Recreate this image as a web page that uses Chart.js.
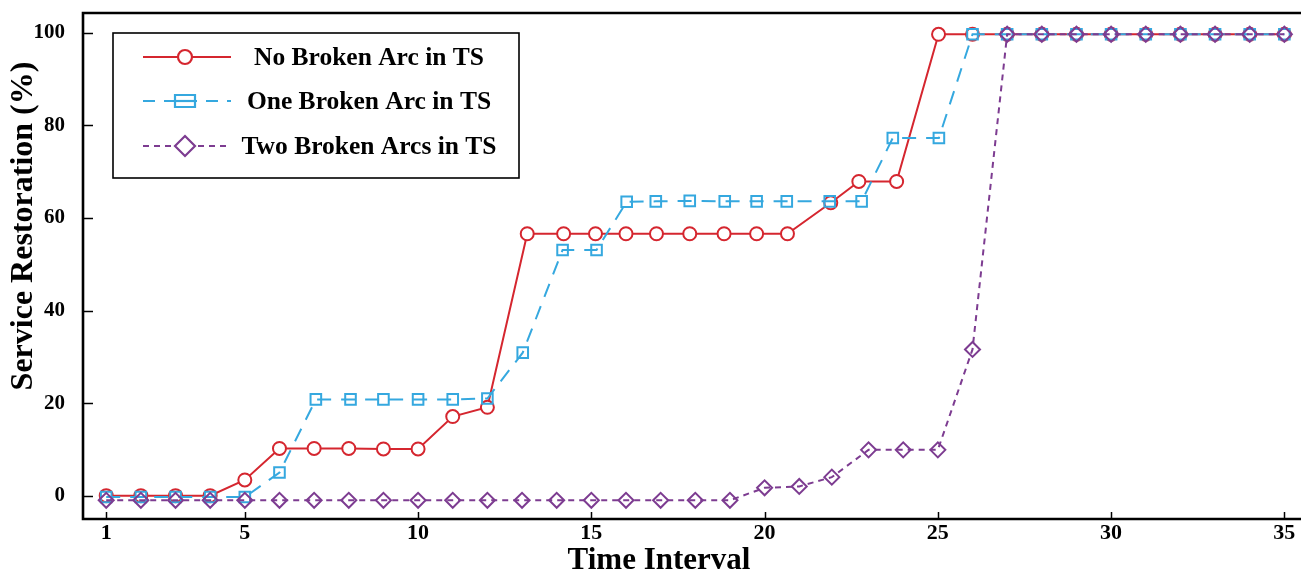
<!DOCTYPE html>
<html>
<head>
<meta charset="utf-8">
<script src="https://cdn.jsdelivr.net/npm/chart.js@4.4.1/dist/chart.umd.min.js"></script>
<style>
  html, body { margin: 0; padding: 0; background: #fff; }
  #wrap { width: 1301px; height: 575px; position: relative; }
</style>
</head>
<body>
<div id="wrap"><canvas id="c"></canvas></div>
<script>
// ---- data ----
const seriesLabels = ['No Broken Arc in TS', 'One Broken Arc in TS', 'Two Broken Arcs in TS'];
const xAxisTitle = 'Time Interval';
const yAxisTitle = 'Service Restoration (%)';
const xTickValues = [1, 5, 10, 15, 20, 25, 30, 35];
const yTickValues = [0, 20, 40, 60, 80, 100];

const xNoBroken = [1,2,3,4,5,6,7,8,9,10,11,12,13.15,14.2,15.12,16.0,16.88,17.84,18.83,19.77,20.66,21.91,22.72,23.81,25.02,26,27,28,29,30,31,32,33,34,35];
const yNoBroken = [0,0,0,0,3.4,10.2,10.2,10.2,10.1,10.1,17.1,19.1,56.6,56.6,56.6,56.6,56.6,56.6,56.6,56.6,56.6,63.3,67.9,67.9,99.7,99.7,99.7,99.7,99.7,99.7,99.7,99.7,99.7,99.7,99.7];

const xOneBroken = [1,2,3,4,5,6,7.05,8.05,9,10,11,12,13.02,14.17,15.15,16.02,16.86,17.84,18.85,19.77,20.64,21.88,22.8,23.7,25.03,26,27,28,29,30,31,32,33,34,35];
const yOneBroken = [-0.3,-0.3,-0.3,-0.3,-0.3,5.0,20.8,20.8,20.8,20.8,20.8,21.0,30.9,53.1,53.1,63.5,63.6,63.7,63.6,63.6,63.6,63.6,63.6,77.3,77.3,99.7,99.7,99.7,99.7,99.7,99.7,99.7,99.7,99.7,99.7];

const xTwoBroken = [1,2,3,4,5,6,7,8,9,10,11,12,13,14,15,16,17,18,19,20,21,21.94,23,24,25,26,27,28,29,30,31,32,33,34,35];
const yTwoBroken = [-1,-1,-1,-1,-1,-1,-1,-1,-1,-1,-1,-1,-1,-1,-1,-1,-1,-1,-1,1.7,2.0,4.0,9.9,9.9,9.9,31.6,99.7,99.7,99.7,99.7,99.7,99.7,99.7,99.7,99.7];

// ---- styles ----
const RED = '#d5262f', BLUE = '#35a8df', PURPLE = '#7d3c91';
const FONT = '"Liberation Serif", "Times New Roman", Times, serif';

const toPts = (xs, ys) => xs.map((x, i) => ({ x, y: ys[i] }));

const legendStyles = [
  { color: RED, dash: [], marker: 'circle' },
  { color: BLUE, dash: [12, 9], marker: 'rect' },
  { color: PURPLE, dash: [6, 5], marker: 'diamond' }
];

const framePlugin = {
  id: 'frame',
  afterDraw(chart) {
    const { ctx, chartArea: a, scales: { x, y } } = chart;
    ctx.save();
    ctx.setLineDash([]);
    ctx.strokeStyle = '#000';
    ctx.lineWidth = 1.5;
    yTickValues.forEach(v => {
      const py = Math.round(y.getPixelForValue(v)) + 0.5;
      ctx.beginPath(); ctx.moveTo(a.left, py); ctx.lineTo(a.left + 10, py); ctx.stroke();
    });
    xTickValues.forEach(v => {
      const px = Math.round(x.getPixelForValue(v)) + 0.5;
      ctx.beginPath(); ctx.moveTo(px, a.bottom); ctx.lineTo(px, a.bottom - 7); ctx.stroke();
    });
    ctx.lineWidth = 2.6;
    ctx.beginPath();
    ctx.moveTo(a.right + 3, a.top);
    ctx.lineTo(a.left, a.top);
    ctx.lineTo(a.left, a.bottom);
    ctx.lineTo(a.right + 3, a.bottom);
    ctx.stroke();

    // axis titles
    ctx.fillStyle = '#000';
    ctx.textAlign = 'center';
    ctx.textBaseline = 'middle';
    ctx.font = 'bold 31px ' + FONT;
    ctx.fillText(xAxisTitle, 659, 561);
    ctx.save();
    ctx.translate(24, 226);
    ctx.rotate(-Math.PI / 2);
    ctx.font = 'bold 32px ' + FONT;
    ctx.fillText(yAxisTitle, 0, 0);
    ctx.restore();

    // legend box
    const bx = a.left + 30, by = a.top + 20, bw = 406, bh = 145;
    ctx.fillStyle = '#fff';
    ctx.fillRect(bx, by, bw, bh);
    ctx.lineWidth = 1.6;
    ctx.strokeStyle = '#000';
    ctx.strokeRect(bx, by, bw, bh);
    const rows = [by + 24, by + 68, by + 113];
    legendStyles.forEach((st, i) => {
      const cy = rows[i];
      ctx.strokeStyle = st.color;
      ctx.lineWidth = 2;
      ctx.setLineDash(st.dash);
      ctx.beginPath(); ctx.moveTo(bx + 30, cy); ctx.lineTo(bx + 118, cy); ctx.stroke();
      ctx.setLineDash([]);
      const mx = bx + 72;
      ctx.lineWidth = 2.2;
      ctx.fillStyle = '#fff';
      ctx.beginPath();
      if (st.marker === 'circle') {
        ctx.arc(mx, cy, 7, 0, Math.PI * 2);
        ctx.fill(); ctx.stroke();
      } else if (st.marker === 'rect') {
        ctx.rect(mx - 10, cy - 6, 20, 12);
        ctx.fill(); ctx.stroke();
        ctx.beginPath(); ctx.moveTo(mx - 10, cy); ctx.lineTo(mx + 10, cy); ctx.stroke();
      } else {
        ctx.moveTo(mx, cy - 10); ctx.lineTo(mx + 10, cy); ctx.lineTo(mx, cy + 10); ctx.lineTo(mx - 10, cy); ctx.closePath();
        ctx.fill(); ctx.stroke();
      }
      ctx.fillStyle = '#000';
      ctx.font = 'bold 25.5px ' + FONT;
      ctx.textAlign = 'center';
      ctx.textBaseline = 'middle';
      ctx.fillText(seriesLabels[i], bx + 256, cy + 1);
    });
    ctx.restore();
  }
};

new Chart(document.getElementById('c'), {
  type: 'line',
  data: {
    datasets: [
      {
        label: seriesLabels[0], data: toPts(xNoBroken, yNoBroken),
        borderColor: RED, backgroundColor: RED, borderWidth: 2,
        pointStyle: 'circle', pointRadius: 6.5, pointBorderWidth: 2,
        pointBorderColor: RED, pointBackgroundColor: '#fff', order: 3, tension: 0
      },
      {
        label: seriesLabels[1], data: toPts(xOneBroken, yOneBroken),
        borderColor: BLUE, backgroundColor: BLUE, borderWidth: 2, borderDash: [14, 10],
        pointStyle: 'rect', pointRadius: 7.5, pointBorderWidth: 2,
        pointBorderColor: BLUE, pointBackgroundColor: 'rgba(0,0,0,0)', order: 2, tension: 0
      },
      {
        label: seriesLabels[2], data: toPts(xTwoBroken, yTwoBroken),
        borderColor: PURPLE, backgroundColor: PURPLE, borderWidth: 2, borderDash: [6, 5],
        pointStyle: 'rectRot', pointRadius: 7.5, pointBorderWidth: 2,
        pointBorderColor: PURPLE, pointBackgroundColor: 'rgba(0,0,0,0)', order: 1, tension: 0
      }
    ]
  },
  options: {
    responsive: true,
    maintainAspectRatio: false,
    animation: false,
    layout: { autoPadding: false, padding: { top: 13, left: 0, right: 0, bottom: 0 } },
    plugins: { legend: { display: false }, tooltip: { enabled: false } },
    scales: {
      x: {
        type: 'linear', min: 0.33, max: 35.48,
        afterBuildTicks: s => { s.ticks = xTickValues.map(v => ({ value: v })); },
        afterFit: s => { s.height = 56; s.paddingLeft = 0; s.paddingRight = 0; },
        grid: { display: false, drawTicks: false },
        border: { display: false },
        ticks: { color: '#000', padding: 1, maxRotation: 0, autoSkip: false,
                 font: { family: FONT, size: 22, weight: 'bold' } },
        title: { display: false, text: xAxisTitle }
      },
      y: {
        type: 'linear', min: -5.04, max: 104.3,
        afterBuildTicks: s => { s.ticks = yTickValues.map(v => ({ value: v })); },
        afterFit: s => { s.width = 83; s.paddingTop = 0; s.paddingBottom = 0; },
        grid: { display: false, drawTicks: false },
        border: { display: false },
        ticks: { color: '#000', padding: 18, font: { family: FONT, size: 21, weight: 'bold' } },
        title: { display: false, text: yAxisTitle }
      }
    }
  },
  plugins: [framePlugin]
});
</script>
</body>
</html>
